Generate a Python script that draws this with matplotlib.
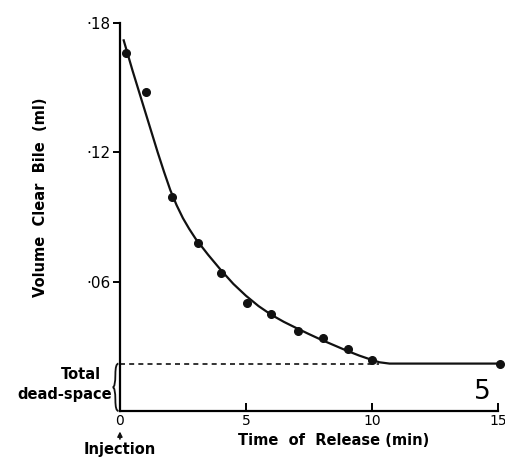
import matplotlib
matplotlib.use("Agg")
import matplotlib.pyplot as plt
from matplotlib.path import Path
from matplotlib.patches import PathPatch
from matplotlib import transforms

# 数据：测量点 (min, ml)
t_points = [0.25, 1.05, 2.05, 3.1, 4.0, 5.05, 6.0, 7.05, 8.05, 9.05, 10.0, 15.1]
v_points = [0.166, 0.148, 0.0995, 0.078, 0.064, 0.050, 0.045, 0.037, 0.034, 0.029, 0.0237, 0.022]

# 拟合曲线
t_curve = [0.15, 0.5, 1.0, 1.5, 1.75, 2.0, 2.25, 2.5, 2.75, 3.0, 3.5, 4.0, 4.5, 5.0,
           5.5, 6.0, 6.5, 7.0, 7.5, 8.0, 8.5, 9.0, 9.5, 10.0, 10.3, 10.7, 15.0]
v_curve = [0.172, 0.158, 0.139, 0.120, 0.111, 0.1025, 0.0955, 0.0895, 0.0845, 0.080,
           0.0725, 0.0655, 0.059, 0.0535, 0.0487, 0.0447, 0.0414, 0.0385, 0.0357,
           0.033, 0.0305, 0.028, 0.0257, 0.0237, 0.0226, 0.022, 0.022]

dead_space = 0.022
x_ticks = [0, 5, 10, 15]
x_ticklabels = ["0", "5", "10", "15"]
y_ticks = [0.06, 0.12, 0.18]
y_ticklabels = ["·06", "·12", "·18"]

plt.rcParams['font.family'] = ['DejaVu Sans']

fig = plt.figure(figsize=(5.06, 4.59), dpi=100)
ax = fig.add_axes([0.237, 0.1046, 0.747, 0.845])

ax.plot(t_curve, v_curve, color="#111111", lw=1.6, zorder=2)
ax.plot(t_points, v_points, "o", color="#111111", ms=5.5, zorder=3, clip_on=False)
ax.plot([0, 10.3], [dead_space, dead_space], ls=(0, (3, 2.5)), color="#111111", lw=1.2)

ax.set_xlim(0, 15)
ax.set_ylim(0, 0.18)
for s in ["top", "right"]:
    ax.spines[s].set_visible(False)
for s in ["left", "bottom"]:
    ax.spines[s].set_linewidth(1.6)

ax.set_xticks(x_ticks)
ax.set_xticklabels(x_ticklabels, fontsize=10)
ax.set_yticks(y_ticks)
ax.set_yticklabels(y_ticklabels, fontsize=11)
ax.tick_params(axis="x", direction="in", length=6, width=1.4, pad=2)
ax.tick_params(axis="y", direction="out", length=5, width=1.4, pad=2)

ax.set_ylabel("Volume  Clear  Bile  (ml)", fontsize=10.5, fontweight="bold")
ax.yaxis.set_label_coords(-0.19, 0.55)
fig.text(0.659, 0.040, "Time  of  Release (min)", fontsize=10.5, fontweight="bold",
         ha="center", va="center")

# Injection 标注
fig.text(0.236, 0.020, "Injection", fontsize=10.5, fontweight="bold", ha="center", va="center")
ax.annotate("", xy=(0.0, -0.0095), xytext=(0.0, -0.0130), xycoords="data",
            arrowprops=dict(arrowstyle="-|>", color="#111111", lw=1.2, mutation_scale=7,
                            shrinkA=0, shrinkB=0),
            annotation_clip=False)

# 死腔括号
tr = transforms.blended_transform_factory(ax.transAxes, ax.transData)
m = dead_space / 2
verts = [(-0.004, dead_space), (-0.012, dead_space), (-0.012, m + 0.006),
         (-0.012, m), (-0.019, m),
         (-0.012, m), (-0.012, m - 0.006),
         (-0.012, 0.0), (-0.004, 0.0)]
codes = [Path.MOVETO, Path.CURVE3, Path.CURVE3,
         Path.CURVE3, Path.CURVE3,
         Path.CURVE3, Path.CURVE3,
         Path.CURVE3, Path.CURVE3]
ax.add_patch(PathPatch(Path(verts, codes), transform=tr, fill=False, lw=1.3,
                       color="#111111", clip_on=False))
ax.text(-0.103, 0.017, "Total", transform=tr, fontsize=10.5, fontweight="bold",
        ha="center", va="center")
ax.text(-0.022, 0.0075, "dead-space", transform=tr, fontsize=10.5, fontweight="bold",
        ha="right", va="center")

ax.text(0.96, 0.009, "5", transform=tr, fontsize=19, ha="center", va="center")

fig.savefig("out.png", dpi=100)
